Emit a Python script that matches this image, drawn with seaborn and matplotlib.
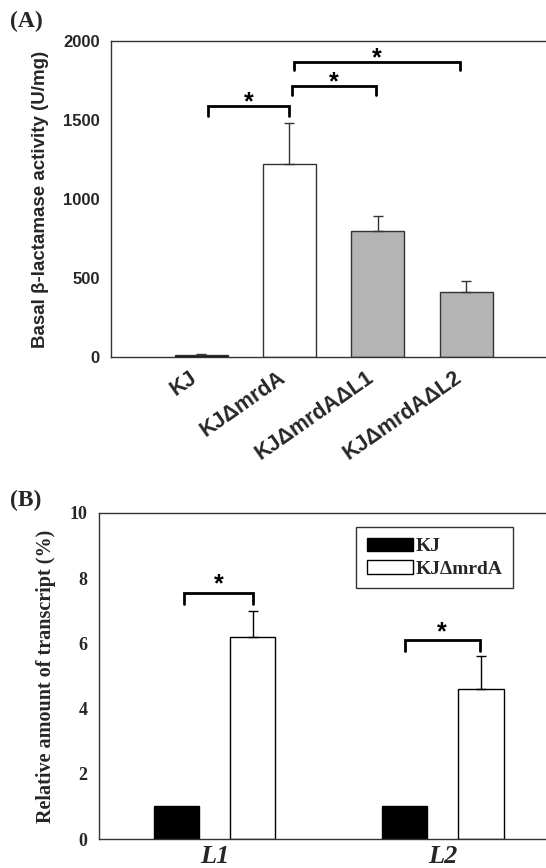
import numpy as np
import pandas as pd
import seaborn as sns
import matplotlib.pyplot as plt
from matplotlib.patches import Patch

# ---------------- data ----------------
strains = ["KJ", "KJΔmrdA", "KJΔmrdAΔL1", "KJΔmrdAΔL2"]
activity = [15, 1220, 800, 410]
activity_err = [5, 260, 90, 70]
strain_colors = ["#000000", "#ffffff", "#b4b4b4", "#b4b4b4"]

genes = ["L1", "L2"]
groups = ["KJ", "KJΔmrdA"]
kj_transcript = [1.0, 1.0]
mrda_transcript = [6.2, 4.6]
kj_err = [0.0, 0.0]
mrda_err = [0.8, 1.0]
group_colors = ["#000000", "#ffffff"]

sns.set_theme(style="white")
plt.rcParams["font.family"] = ["Liberation Sans", "DejaVu Sans"]

fig = plt.figure(figsize=(5.46, 8.68), dpi=100)
axA = fig.add_axes([0.203, 0.5887, 0.80, 0.364])
axB = fig.add_axes([0.181, 0.0334, 0.822, 0.3756])

# ---------------- panel A ----------------
dfA = pd.DataFrame({"strain": strains, "activity": activity})
sns.barplot(data=dfA, x="strain", y="activity", hue="strain", order=strains,
            hue_order=strains, palette=strain_colors, legend=False, width=0.6,
            saturation=1, edgecolor="#333333", linewidth=1.0, ax=axA)
xa = sorted([p.get_x() + p.get_width() / 2 for p in axA.patches])
axA.errorbar(xa, activity, yerr=[np.zeros(len(activity)), activity_err], fmt="none",
             ecolor="#333333", elinewidth=1.0, capsize=3.3, capthick=1.0)
axA.set_ylim(0, 2000)
axA.set_xlim(-1.02, 3.92)
axA.set_yticks([0, 500, 1000, 1500, 2000])
axA.tick_params(axis="y", direction="out", length=4, width=1, color="#333333",
                labelsize=12, pad=4)
axA.tick_params(axis="x", length=0, labelsize=15.5, pad=7)
for t in axA.get_yticklabels():
    t.set_fontweight("bold")
for t in axA.get_xticklabels():
    t.set_fontweight("bold")
    t.set_rotation(35)
    t.set_ha("right")
axA.set_xlabel("")
axA.set_ylabel("Basal β-lactamase activity (U/mg)", fontsize=13.5, fontweight="bold",
               labelpad=10)
for s in ["left", "bottom", "top"]:
    axA.spines[s].set_color("#333333")
    axA.spines[s].set_linewidth(1.0)
axA.spines["right"].set_visible(False)


def bracket(ax, x1, x2, y, tip, star_y, fs):
    ax.plot([x1, x1, x2, x2], [y - tip, y, y, y - tip], color="black", lw=2.0,
            solid_joinstyle="miter", clip_on=False)
    ax.text((x1 + x2) / 2, star_y, "*", ha="center", va="center", fontsize=fs,
            fontweight="bold", color="black")


bracket(axA, xa[0] + 0.08, xa[1], 1586, 63, 1610, 18)
bracket(axA, xa[1] + 0.03, xa[2] - 0.02, 1713, 53, 1738, 18)
bracket(axA, xa[1] + 0.05, xa[3] - 0.07, 1867, 53, 1890, 18)

fig.text(0.018, 0.975, "(A)", fontsize=17, fontweight="bold",
         family="Liberation Serif", va="center")

# ---------------- panel B ----------------
dfB = pd.DataFrame({
    "gene": genes * 2,
    "group": [groups[0]] * 2 + [groups[1]] * 2,
    "value": kj_transcript + mrda_transcript,
})
sns.barplot(data=dfB, x="gene", y="value", hue="group", order=genes,
            hue_order=groups, palette=group_colors, width=0.667, gap=0.4,
            saturation=1, edgecolor="black", linewidth=1.0, legend=False, ax=axB)
errs = [kj_err, mrda_err]
vals = [kj_transcript, mrda_transcript]
centers = []
for cont, v, e in zip(axB.containers, vals, errs):
    xs = [p.get_x() + p.get_width() / 2 for p in cont.patches]
    centers.append(xs)
    if max(e) > 0:
        axB.errorbar(xs, v, yerr=[np.zeros(len(v)), e], fmt="none", ecolor="black",
                     elinewidth=1.0, capsize=3.3, capthick=1.0)
axB.set_ylim(0, 10)
axB.set_xlim(-0.507, 1.46)
axB.set_yticks([0, 2, 4, 6, 8, 10])
serif = ["Liberation Serif", "DejaVu Serif"]
axB.tick_params(axis="y", direction="out", length=4, width=1, labelsize=13, pad=4)
axB.tick_params(axis="x", length=0, pad=4)
for t in axB.get_yticklabels():
    t.set_fontweight("bold")
    t.set_family(serif)
for t in axB.get_xticklabels():
    t.set_fontweight("bold")
    t.set_family(serif)
    t.set_style("italic")
    t.set_fontsize(19)
axB.set_xlabel("")
axB.set_ylabel("Relative amount of transcript (%)", fontsize=14.5, fontweight="bold",
               family=serif, labelpad=10)
for s in ["left", "bottom", "top"]:
    axB.spines[s].set_color("#333333")
    axB.spines[s].set_linewidth(1.0)
axB.spines["right"].set_visible(False)

bracket(axB, centers[0][0] + 0.035, centers[1][0], 7.55, 0.35, 7.8, 18)
bracket(axB, centers[0][1], centers[1][1] - 0.005, 6.1, 0.32, 6.33, 18)

handles = [Patch(facecolor=c, edgecolor="black", linewidth=1.0) for c in group_colors]
leg = axB.legend(handles, groups, loc="upper left", bbox_to_anchor=(0.573, 0.957),
                 borderaxespad=0, frameon=True, fancybox=False, handlelength=2.4,
                 handleheight=0.7, handletextpad=0.1, labelspacing=0.25,
                 prop={"family": serif, "weight": "bold", "size": 14},
                 borderpad=0.55)
leg.get_frame().set_edgecolor("black")
leg.get_frame().set_linewidth(1.0)

fig.text(0.018, 0.424, "(B)", fontsize=17, fontweight="bold",
         family="Liberation Serif", va="center")

fig.savefig("out.png", dpi=100)
